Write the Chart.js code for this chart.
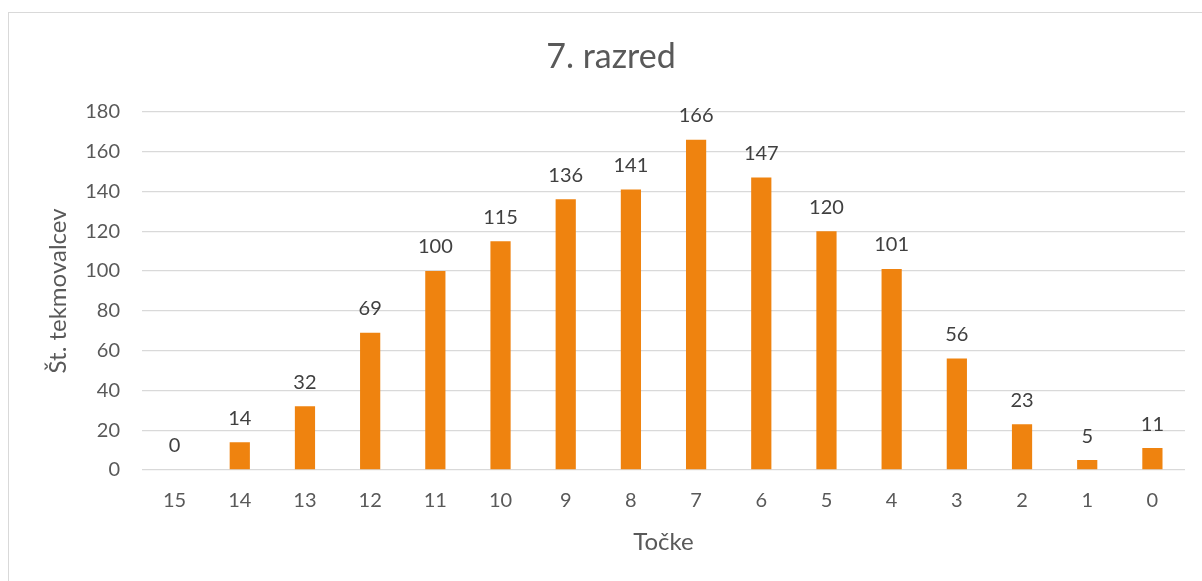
<!DOCTYPE html>
<html>
<head>
<meta charset="utf-8">
<script src="https://cdn.jsdelivr.net/npm/chart.js@4"></script>
<style>
    html, body { margin: 0; padding: 0; background: #ffffff; }
    #wrap { position: relative; width: 1202px; height: 581px; overflow: hidden; }
    #frame { position: absolute; left: 8px; top: 12px; width: 1400px; height: 800px; border: 1px solid #d9d9d9; }
    #chart { position: absolute; left: 0; top: 0; }
</style>
</head>
<body>
<div id="wrap">
    <div id="frame"></div>
    <canvas id="chart" width="1202" height="581"></canvas>
</div>
<script>
// Points (categories) and number of competitors per score
const tocke = ['15', '14', '13', '12', '11', '10', '9', '8', '7', '6', '5', '4', '3', '2', '1', '0'];
const stTekmovalcev = [0, 14, 32, 69, 100, 115, 136, 141, 166, 147, 120, 101, 56, 23, 5, 11];
const yTicks = [0, 20, 40, 60, 80, 100, 120, 140, 160, 180];

const fontFamily = "Lato, 'Open Sans', sans-serif";
const tickColor = '#595959';
const gridColor = '#d9d9d9';

// simple value labels above each bar
const barLabels = {
    id: 'barLabels',
    afterDatasetsDraw(chart) {
        const ctx = chart.ctx;
        const meta = chart.getDatasetMeta(0);
        ctx.save();
        ctx.font = '20px ' + fontFamily;
        ctx.fillStyle = '#404040';
        ctx.textAlign = 'center';
        ctx.textBaseline = 'bottom';
        meta.data.forEach((bar, i) => {
            ctx.fillText(String(chart.data.datasets[0].data[i]), bar.x, bar.y - 14);
        });
        ctx.restore();
    }
};

const ctx = document.getElementById('chart').getContext('2d');
new Chart(ctx, {
    type: 'bar',
    data: {
        labels: tocke,
        datasets: [{
            label: 'Št. tekmovalcev',
            data: stTekmovalcev,
            backgroundColor: '#EF830F',
            borderWidth: 0,
            barPercentage: 0.31,
            categoryPercentage: 1
        }]
    },
    options: {
        responsive: false,
        animation: false,
        layout: { padding: { left: 37, right: 17, top: 0, bottom: 0 } },
        plugins: {
            legend: { display: false },
            tooltip: { enabled: false },
            title: {
                display: true,
                text: '7. razred',
                color: tickColor,
                font: { family: fontFamily, size: 34, weight: 'normal' },
                padding: { top: 37, bottom: 34 }
            }
        },
        scales: {
            x: {
                grid: { display: false, drawTicks: false },
                border: { display: false },
                ticks: {
                    color: tickColor,
                    font: { family: fontFamily, size: 20 },
                    padding: 19,
                    maxRotation: 0
                },
                title: {
                    display: true,
                    text: 'Točke',
                    color: tickColor,
                    font: { family: fontFamily, size: 24 },
                    padding: { top: 0, bottom: 24 }
                },
                afterFit(scale) { scale.height = 111; }
            },
            y: {
                min: 0,
                max: 180,
                afterBuildTicks(scale) { scale.ticks = yTicks.map(v => ({ value: v })); },
                grid: { color: gridColor, lineWidth: 1.3, drawTicks: false },
                border: { display: false },
                ticks: {
                    color: tickColor,
                    font: { family: fontFamily, size: 20 },
                    padding: 22
                },
                title: {
                    display: true,
                    text: 'Št. tekmovalcev',
                    color: tickColor,
                    font: { family: fontFamily, size: 24 },
                    padding: { top: 7, bottom: 0 }
                },
                afterFit(scale) { scale.width = 105; }
            }
        }
    },
    plugins: [barLabels]
});
</script>
</body>
</html>
